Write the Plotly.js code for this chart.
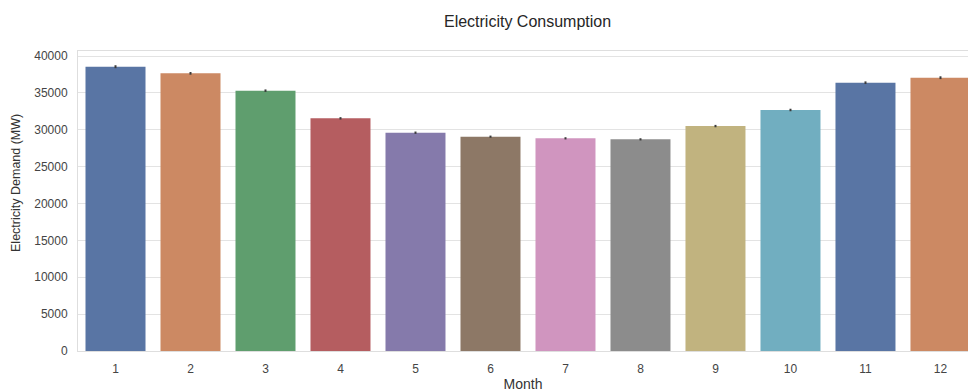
<!DOCTYPE html>
<html>
<head>
<meta charset="utf-8">
<script src="https://cdn.plot.ly/plotly-3.0.1.min.js"></script>
<style>html,body{margin:0;padding:0;background:#fff;}#chart{width:968px;height:392px;}</style>
</head>
<body>
<div id="chart"></div>
<script>
const months = ['1','2','3','4','5','6','7','8','9','10','11','12'];
const demand = [38550, 37650, 35300, 31550, 29600, 29060, 28840, 28700, 30500, 32680, 36380, 37060];
const errors = [200, 180, 170, 160, 160, 150, 150, 150, 160, 170, 180, 190];
const barColors = ['#5975A4','#CC8963','#5F9E6E','#B55D60','#857AAB','#8D7866','#D095BF','#8C8C8C','#C1B37F','#71AEC0','#5975A4','#CC8963'];
const yTicks = [0,5000,10000,15000,20000,25000,30000,35000,40000];
const yTickText = ['0','5000','10000','15000','20000','25000','30000','35000','40000'];

const trace = {
  type: 'bar',
  x: months,
  y: demand,
  width: 0.8,
  marker: {color: barColors, line: {width: 0}},
  error_y: {type: 'data', array: errors, visible: true, color: '#3c3c3c', thickness: 2, width: 0}
};

const layout = {
  width: 968, height: 392,
  margin: {l: 78, r: 0, t: 51, b: 41},
  paper_bgcolor: '#fff', plot_bgcolor: '#fff',
  font: {family: 'Liberation Sans, Arial, sans-serif', color: '#333'},
  title: {text: 'Electricity Consumption', font: {size: 16, color: '#262626'}, xref: 'container', x: 0.545, xanchor: 'center', yref: 'container', y: 0.945, yanchor: 'middle'},
  bargap: 0.2,
  showlegend: false,
  xaxis: {
    type: 'category',
    range: [-0.5, 11.367],
    showgrid: false,
    showline: true, linecolor: '#dedede', linewidth: 1, mirror: true,
    ticks: '', ticklabelstandoff: 7, tickfont: {size: 12, color: '#444'},
    title: {text: 'Month', font: {size: 14, color: '#333'}, standoff: 4},
    automargin: false,
    zeroline: false
  },
  yaxis: {
    range: [0, 40680],
    tickvals: yTicks,
    ticktext: yTickText,
    showgrid: true, gridcolor: '#e3e3e3', gridwidth: 1,
    showline: true, linecolor: '#dedede', linewidth: 1, mirror: true,
    ticks: '', ticklen: 0, ticklabelstandoff: 7, tickfont: {size: 12, color: '#444'},
    automargin: false,
    zeroline: false
  },
  annotations: [{
    text: 'Electricity Demand (MW)',
    xref: 'paper', yref: 'paper', x: -0.0697, y: 0.56,
    xanchor: 'center', yanchor: 'middle', textangle: -90, showarrow: false,
    font: {size: 12.5, color: '#333'}
  }]
};

Plotly.newPlot('chart', [trace], layout, {displayModeBar: false, staticPlot: true});
</script>
</body>
</html>
